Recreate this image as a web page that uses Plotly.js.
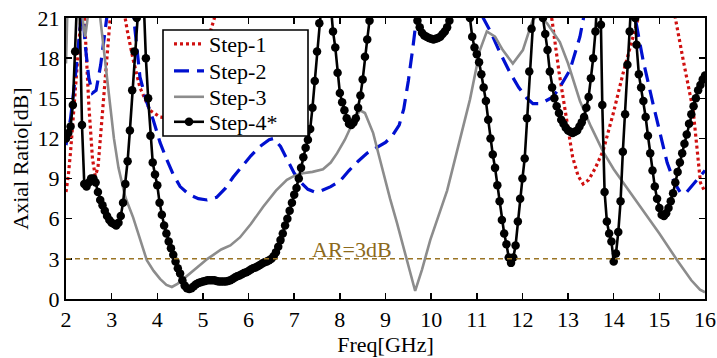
<!DOCTYPE html>
<html>
<head>
<meta charset="utf-8">
<script src="https://cdn.plot.ly/plotly-3.0.1.min.js"></script>
<style>
  html, body { margin: 0; padding: 0; background: #fff; }
  #chart { width: 717px; height: 358px; }
</style>
</head>
<body>
<div id="chart"></div>
<script>
// ---------- data ----------
const seriesNames = ['Step-1', 'Step-2', 'Step-3', 'Step-4*'];
const xTicks = [2, 3, 4, 5, 6, 7, 8, 9, 10, 11, 12, 13, 14, 15, 16];
const yTicks = [0, 3, 6, 9, 12, 15, 18, 21];
const arThreshold = 3;
const arLabel = 'AR=3dB';

// Step-1 (red dotted)
const freq1 = [2.0, 2.05, 2.1, 2.16, 2.25, 2.33, 2.37, 2.42, 2.5, 2.58, 2.64, 2.7, 2.8, 2.9, 2.98, 3.1, 3.26, 3.34, 3.47, 3.62, 3.84, 4.06, 4.3, 4.6, 4.9, 5.15, 5.27, 5.4, 6.5, 9.0, 12.5, 12.65, 12.8, 12.95, 13.1, 13.22, 13.33, 13.45, 13.6, 13.77, 14.0, 14.2, 14.42, 14.56, 14.7, 15.0, 15.3, 15.35, 15.52, 15.74, 15.83, 15.9, 16.0];
const ar1 = [8.0, 9.2, 11.0, 13.8, 17.5, 21.0, 23.0, 20.0, 14.5, 10.5, 9.2, 9.8, 13.8, 18.3, 21.5, 25.0, 21.5, 20.1, 17.9, 15.8, 14.1, 13.6, 13.5, 14.5, 17.0, 19.8, 21.2, 24.0, 35.0, 35.0, 24.0, 20.8, 17.0, 13.8, 10.6, 9.2, 8.6, 8.9, 9.8, 11.1, 14.0, 16.8, 19.7, 21.3, 24.0, 30.0, 24.0, 21.0, 17.9, 14.1, 11.1, 8.7, 8.0];

// Step-2 (blue dashed)
const freq2 = [2.0, 2.1, 2.2, 2.3, 2.36, 2.42, 2.5, 2.58, 2.66, 2.76, 2.86, 2.93, 3.2, 3.44, 3.5, 3.62, 3.76, 3.91, 4.06, 4.21, 4.35, 4.5, 4.7, 4.9, 5.09, 5.3, 5.5, 5.66, 5.85, 6.05, 6.25, 6.45, 6.55, 6.7, 6.85, 7.0, 7.15, 7.3, 7.45, 7.6, 7.8, 8.0, 8.2, 8.4, 8.6, 8.8, 9.0, 9.15, 9.3, 9.4, 9.5, 9.6, 9.68, 9.75, 10.4, 11.05, 11.14, 11.3, 11.51, 11.73, 11.92, 12.1, 12.23, 12.4, 12.55, 12.67, 12.85, 13.04, 13.26, 13.34, 13.45, 14.0, 14.4, 14.47, 14.64, 14.86, 15.01, 15.17, 15.33, 15.47, 15.6, 15.75, 15.89, 16.0];
const ar2 = [11.5, 13.5, 16.5, 20.0, 22.0, 19.0, 16.5, 15.4, 15.6, 17.5, 20.5, 22.0, 28.0, 22.0, 20.5, 16.6, 14.8, 13.4, 11.7, 10.4, 9.3, 8.4, 7.8, 7.5, 7.4, 7.6, 8.3, 9.1, 9.9, 10.7, 11.4, 11.9, 12.0, 11.4, 10.4, 9.4, 8.7, 8.2, 8.0, 8.1, 8.4, 8.8, 9.6, 10.3, 10.9, 11.3, 11.7, 12.2, 13.0, 14.2, 16.3, 18.8, 21.0, 23.0, 30.0, 22.0, 21.0, 20.0, 18.4, 16.9, 15.8, 15.0, 14.6, 14.6, 14.9, 15.1, 16.0, 17.1, 19.6, 21.0, 23.0, 30.0, 23.0, 21.0, 17.9, 14.6, 12.4, 10.2, 8.7, 7.9, 8.0, 8.6, 9.1, 9.6];

// Step-3 (gray solid)
const freq3 = [2.0, 2.03, 2.15, 2.33, 2.38, 2.42, 2.46, 2.52, 2.65, 2.73, 2.75, 2.85, 2.95, 3.05, 3.15, 3.3, 3.47, 3.62, 3.77, 3.92, 4.06, 4.2, 4.32, 4.45, 4.65, 4.85, 5.1, 5.4, 5.6, 5.81, 6.05, 6.32, 6.6, 6.84, 7.0, 7.19, 7.4, 7.63, 7.8, 7.94, 8.11, 8.3, 8.44, 8.55, 8.65, 8.73, 8.85, 8.95, 9.1, 9.25, 9.45, 9.65, 9.8, 9.98, 10.35, 10.63, 10.85, 11.07, 11.22, 11.4, 11.57, 11.79, 12.01, 12.23, 12.35, 12.54, 12.82, 13.0, 13.26, 13.5, 13.77, 14.0, 14.29, 14.64, 15.0, 15.39, 15.7, 15.89, 16.0];
const ar3 = [17.6, 21.5, 26.0, 22.0, 20.5, 19.6, 20.6, 22.5, 24.0, 21.5, 21.0, 17.8, 14.8, 12.0, 9.8, 7.6, 6.1, 4.5, 2.9, 2.1, 1.5, 1.05, 0.9, 1.15, 1.7, 2.3, 3.0, 3.7, 4.0, 4.6, 5.6, 6.9, 8.1, 8.9, 9.2, 9.4, 9.5, 9.7, 10.2, 10.9, 11.9, 13.3, 14.1, 13.9, 13.1, 12.4, 10.8, 9.4, 7.5, 5.7, 3.1, 0.6, 2.2, 4.4, 8.1, 11.9, 14.9, 18.6, 20.0, 19.6, 18.6, 17.6, 18.6, 20.9, 21.2, 20.6, 19.2, 17.6, 14.8, 12.9, 11.0, 9.7, 8.3, 6.6, 4.9, 2.9, 1.4, 0.7, 0.5];

// Step-4* (black, circle markers)
const freq4 = [
  2.00, 2.05, 2.10, 2.15, 2.20, 2.25, 2.30, 2.35, 2.40, 2.45, 2.50, 2.55, 2.60, 2.65, 2.70, 2.75, 2.80, 2.85, 2.90, 2.95, 3.00, 3.05, 3.10, 3.15, 3.20, 3.25, 3.30, 3.35, 3.40, 3.45, 3.50, 3.55,
  3.60, 3.65, 3.70, 3.75, 3.80, 3.85, 3.90, 3.95, 4.00, 4.05, 4.10, 4.15, 4.20, 4.25, 4.30, 4.35, 4.40, 4.45, 4.50,
  4.55, 4.60, 4.65, 4.70, 4.75, 4.80, 4.85, 4.90, 4.95, 5.00, 5.05, 5.10, 5.15, 5.20, 5.25, 5.30, 5.35, 5.40, 5.45, 5.50,
  5.55, 5.60, 5.65, 5.70, 5.75, 5.80, 5.85, 5.90, 5.95, 6.00, 6.05, 6.10, 6.15, 6.20, 6.25, 6.30, 6.35, 6.40, 6.45, 6.50,
  6.55, 6.60, 6.65, 6.70, 6.75, 6.80, 6.85, 6.90, 6.95, 7.00, 7.05, 7.10, 7.15, 7.20, 7.25, 7.30, 7.35, 7.40, 7.45, 7.50, 7.55, 7.60,
  7.70, 7.80, 7.85, 7.90, 7.95, 8.00, 8.05, 8.10, 8.15, 8.20, 8.25, 8.30, 8.35, 8.40, 8.45, 8.50, 8.55, 8.60, 8.65, 8.70,
  9.20, 9.65, 9.70, 9.75, 9.80, 9.85, 9.90, 9.95, 10.00, 10.05, 10.10, 10.15, 10.20, 10.25, 10.30, 10.35, 10.40, 10.45, 10.60,
  10.80, 10.85, 10.90, 10.95, 11.00, 11.05, 11.10, 11.15, 11.20, 11.25, 11.30, 11.35, 11.40, 11.45, 11.50, 11.55, 11.60, 11.65, 11.70, 11.75, 11.80, 11.85, 11.90, 11.95, 12.00, 12.05, 12.10, 12.15, 12.20, 12.25, 12.33,
  12.40, 12.45, 12.50, 12.55, 12.60, 12.65, 12.70, 12.75, 12.80, 12.85, 12.90, 12.95, 13.00, 13.05, 13.10, 13.15, 13.20, 13.25, 13.30, 13.35, 13.40, 13.45, 13.50, 13.55, 13.60, 13.65, 13.68,
  13.72, 13.75, 13.80, 13.85, 13.90, 13.95, 14.00, 14.05, 14.10, 14.15, 14.20, 14.25, 14.30, 14.35, 14.40, 14.43,
  14.47, 14.50, 14.55, 14.60, 14.65, 14.70, 14.75, 14.80, 14.85, 14.90, 14.95, 15.00, 15.05, 15.10, 15.15, 15.20, 15.25, 15.30, 15.35, 15.40, 15.45, 15.50, 15.55, 15.60, 15.65, 15.70, 15.75, 15.80, 15.85, 15.90, 15.95, 16.00
];
const ar4 = [
  12.0, 12.4, 12.9, 14.5, 18.5, 23.0, 21.5, 13.0, 8.6, 8.4, 8.7, 9.0, 9.0, 8.7, 8.0, 7.4, 7.0, 6.6, 6.2, 5.9, 5.7, 5.6, 5.5, 5.7, 6.2, 7.2, 8.6, 10.3, 12.6, 15.6, 18.5, 21.0,
  24.0, 25.0, 22.5, 18.0, 15.0, 12.2, 10.2, 9.3, 8.5, 7.2, 6.3, 5.5, 4.9, 4.3, 3.8, 3.3, 2.8, 2.3, 1.9,
  1.4, 1.0, 0.8, 0.75, 0.8, 0.95, 1.1, 1.2, 1.25, 1.3, 1.35, 1.4, 1.4, 1.4, 1.4, 1.35, 1.3, 1.3, 1.3, 1.3,
  1.35, 1.4, 1.5, 1.6, 1.7, 1.75, 1.85, 1.95, 2.0, 2.1, 2.2, 2.3, 2.35, 2.45, 2.55, 2.65, 2.75, 2.8, 2.9, 3.0,
  3.2, 3.5, 3.9, 4.4, 4.9, 5.5, 6.0, 6.6, 7.2, 7.8, 8.3, 9.0, 9.8, 10.6, 11.3, 11.9, 12.7, 14.3, 16.3, 18.5, 20.6, 23.0,
  26.0, 22.0, 20.0, 18.8, 16.9, 15.4, 14.7, 14.1, 13.5, 13.1, 13.0, 13.2, 13.5, 14.3, 15.2, 16.4, 18.1, 19.4, 20.8, 22.5,
  30.0, 22.0, 20.8, 20.3, 19.9, 19.7, 19.6, 19.5, 19.45, 19.4, 19.45, 19.5, 19.6, 19.8, 20.0, 20.3, 20.8, 21.5, 25.0,
  22.5, 21.0, 19.6, 18.8, 18.3, 17.7, 16.8, 15.8, 14.8, 13.4, 12.0, 10.8, 9.8, 8.5, 7.3, 5.9, 4.9, 4.1, 3.1, 2.7, 3.1, 4.0, 5.8, 7.5, 9.0, 10.5, 13.5, 17.0, 20.2, 23.0, 26.0,
  23.0, 21.0, 19.8, 18.6, 17.0, 15.8, 15.0, 14.4, 13.9, 13.4, 13.1, 12.8, 12.6, 12.5, 12.4, 12.5, 12.6, 12.9, 13.2, 13.6, 14.3, 15.1, 16.5, 18.0, 20.0, 23.0, 25.0,
  20.5, 14.5, 8.0, 5.8, 4.9, 4.3, 2.8, 3.4, 5.0, 7.3, 11.0, 13.8, 17.5, 20.0, 23.0, 25.0,
  21.0, 19.0, 16.8, 15.8, 14.8, 13.6, 12.2, 10.9, 9.6, 8.4, 7.5, 6.8, 6.3, 6.2, 6.4, 6.8, 7.3, 7.9, 8.7, 9.5, 10.2, 10.9, 11.6, 12.3, 13.1, 13.8, 14.4, 15.0, 15.6, 16.0, 16.4, 16.7
];

// ---------- chart ----------
const FONT = 'Liberation Serif, Times New Roman, serif';
const FS = 22;

const traces = [
  { x: freq1, y: ar1, name: seriesNames[0], type: 'scatter', mode: 'lines', legend: 'legend',
    line: { color: '#d01010', width: 3.2, dash: '3px,3px' } },
  { x: freq2, y: ar2, name: seriesNames[1], type: 'scatter', mode: 'lines', legend: 'legend2',
    line: { color: '#0010d0', width: 3.2, dash: '15px,8px' } },
  { x: freq3, y: ar3, name: seriesNames[2], type: 'scatter', mode: 'lines', legend: 'legend3',
    line: { color: '#8c8c8c', width: 2.6 } },
  { x: freq4, y: ar4, name: seriesNames[3], type: 'scatter', mode: 'lines+markers', legend: 'legend4',
    line: { color: '#000000', width: 2.6 },
    marker: { symbol: 'circle', size: 8.5, color: '#000000' } }
];

const px = (p) => (p - 66) / 639;      // paper fraction from pixel (x)
const py = (p) => (299 - p) / 281;     // paper fraction from pixel (y)

function legendAt(yPix) {
  return {
    x: px(169), y: py(yPix), xanchor: 'left', yanchor: 'middle',
    bgcolor: 'rgba(0,0,0,0)', borderwidth: 0,
    font: { family: FONT, size: FS, color: '#000' },
    tracegroupgap: 0, itemwidth: 30
  };
}

const layout = {
  width: 717, height: 358,
  margin: { l: 66, r: 12, t: 18, b: 59, pad: 0 },
  paper_bgcolor: '#ffffff', plot_bgcolor: '#ffffff',
  font: { family: FONT, size: FS, color: '#000' },
  showlegend: true,
  xaxis: {
    range: [2, 16], tickmode: 'array', tickvals: xTicks, ticktext: xTicks.map(String),
    ticks: 'inside', ticklen: 6, tickwidth: 1.5, tickcolor: '#000',
    showline: true, linewidth: 2, linecolor: '#000', mirror: 'ticks',
    showgrid: false, zeroline: false,
    tickfont: { family: FONT, size: FS, color: '#000' },
    title: { text: 'Freq[GHz]', font: { family: FONT, size: FS, color: '#000' }, standoff: 2 }
  },
  yaxis: {
    range: [0, 21], tickmode: 'array', tickvals: yTicks, ticktext: yTicks.map(String),
    ticks: 'inside', ticklen: 6, tickwidth: 1.5, tickcolor: '#000',
    showline: true, linewidth: 2, linecolor: '#000', mirror: 'ticks',
    showgrid: false, zeroline: false,
    tickfont: { family: FONT, size: FS, color: '#000' },
    title: { text: 'Axial Ratio[dB]', font: { family: FONT, size: FS, color: '#000' }, standoff: 3 }
  },
  legend: legendAt(44),
  legend2: legendAt(71),
  legend3: legendAt(97),
  legend4: legendAt(122),
  shapes: [
    { type: 'line', xref: 'paper', yref: 'y', x0: 0, x1: 1, y0: arThreshold, y1: arThreshold,
      line: { color: '#9a7424', width: 1.5, dash: '5px,4px' }, layer: 'above' },
    { type: 'rect', xref: 'paper', yref: 'paper', x0: px(163), x1: px(308), y0: py(136), y1: py(30),
      line: { color: '#000', width: 1.6 }, fillcolor: '#ffffff', layer: 'above' }
  ],
  annotations: [
    { x: 8.27, y: arThreshold, xref: 'x', yref: 'y', text: arLabel, showarrow: false,
      xanchor: 'center', yanchor: 'bottom', yshift: -5,
      font: { family: FONT, size: FS, color: '#8c6a1c' } }
  ]
};

Plotly.newPlot('chart', traces, layout, { displayModeBar: false, staticPlot: true });
</script>
</body>
</html>
